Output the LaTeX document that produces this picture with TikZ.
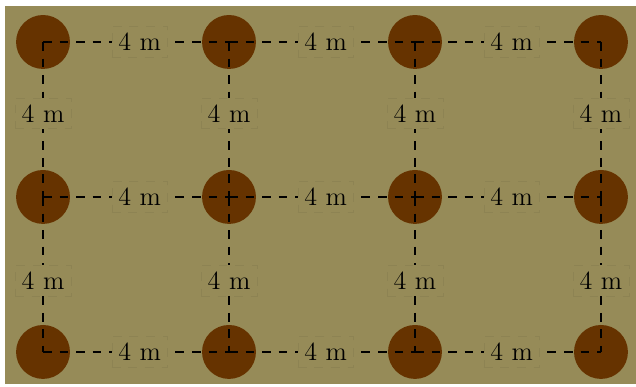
\documentclass[tikz,border=0pt]{standalone}
\usepackage{tikz}
\usetikzlibrary{positioning,calc}
\definecolor{soilbg}{RGB}{150,139,88}
\definecolor{treebrown}{RGB}{102,51,0}
\tikzset{
  treedot/.style={
    circle, fill=treebrown, minimum size=0.87cm, inner sep=0pt
  },
  gridline/.style={black, line width=1.1pt, dash pattern=on 4pt off 3.6pt},
  distlabel/.style={
    fill=soilbg, draw=soilbg!94!black, line width=0.2pt,
    inner sep=3pt, font=\fontsize{12}{14}\selectfont
  }
}

\begin{document}
\begin{tikzpicture}
  \useasboundingbox (-0.694,0.677) rectangle (9.565,-5.565);
  \fill[soilbg] (-0.613,0.581) rectangle (9.565,-5.516);
  % trees
  \foreach \c in {0,...,3} {
    \foreach \r in {0,1,2} {
      \node[treedot] (t\c\r) at (3*\c,-2.5*\r) {};
    }
  }
  % spacing lines
  \foreach \c in {0,...,3} {
    \draw[gridline] (t\c0.center) -- node[distlabel, pos=0.46] {4 m} (t\c1.center);
    \draw[gridline] (t\c1.center) -- node[distlabel, pos=0.54] {4 m} (t\c2.center);
  }
  \foreach \c/\n in {0/1,1/2,2/3} {
    \foreach \r in {0,1,2} {
      \draw[gridline] (t\c\r.center) -- node[distlabel, pos=0.52] {4 m} (t\n\r.center);
    }
  }
\end{tikzpicture}
\end{document}
